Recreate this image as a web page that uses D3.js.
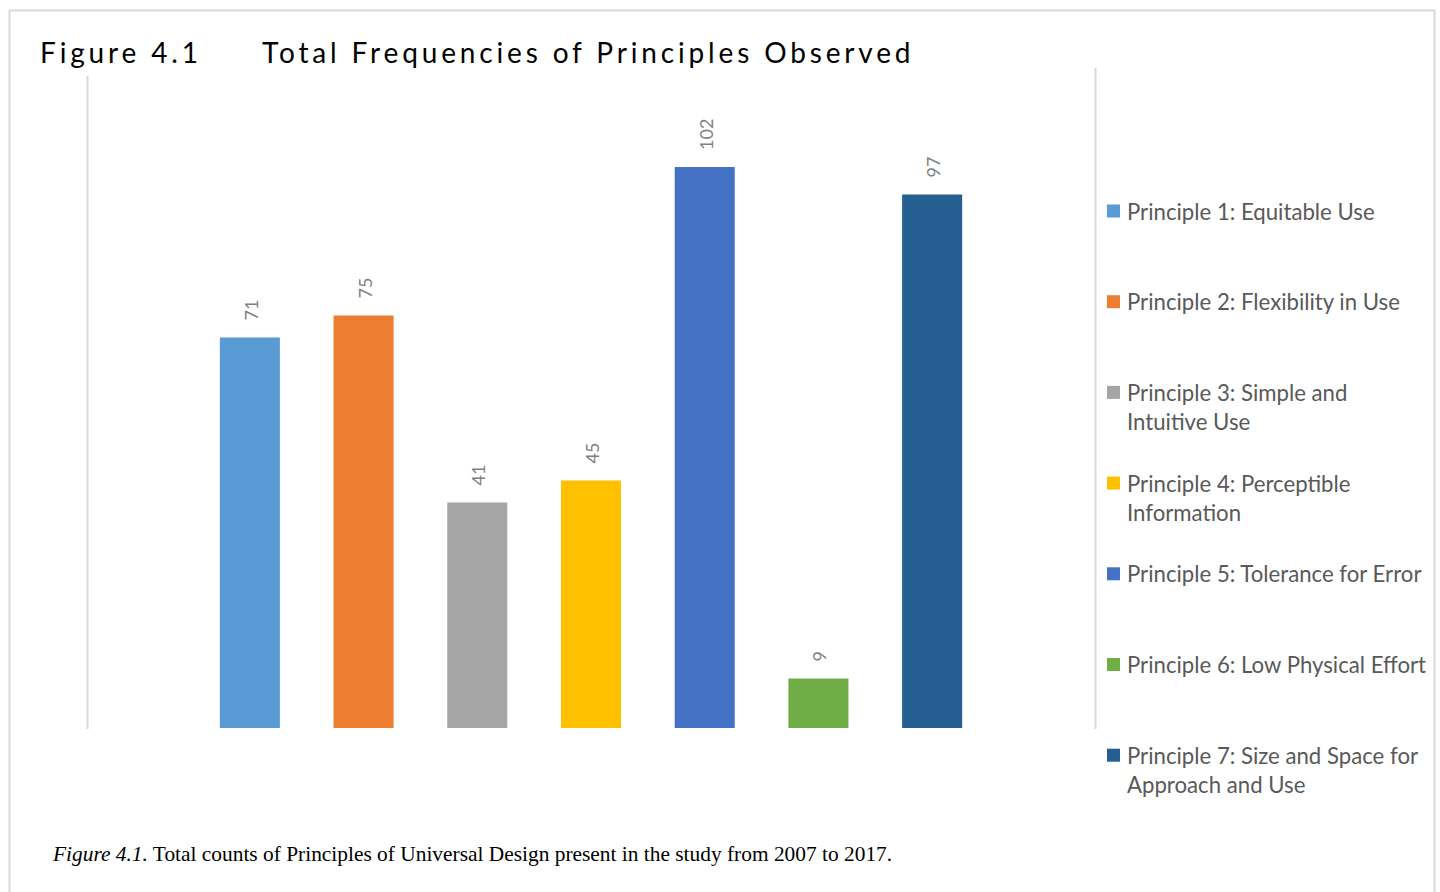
<!DOCTYPE html>
<html>
<head>
<meta charset="utf-8">
<script src="https://cdn.jsdelivr.net/npm/d3@7"></script>
<style>
  html, body { margin: 0; padding: 0; background: #fff; }
  svg { display: block; }
</style>
</head>
<body>
<svg id="chart" width="1440" height="892"></svg>
<script>
// Principles of Universal Design and their observed counts
const categories = [
  "Principle 1: Equitable Use",
  "Principle 2: Flexibility in Use",
  "Principle 3: Simple and Intuitive Use",
  "Principle 4: Perceptible Information",
  "Principle 5: Tolerance for Error",
  "Principle 6: Low Physical Effort",
  "Principle 7: Size and Space for Approach and Use"
];
const counts = [71, 75, 41, 45, 102, 9, 97];
const legendLines = [
  ["Principle 1: Equitable Use"],
  ["Principle 2: Flexibility in Use"],
  ["Principle 3: Simple and", "Intuitive Use"],
  ["Principle 4: Perceptible", "Information"],
  ["Principle 5: Tolerance for Error"],
  ["Principle 6: Low Physical Effort"],
  ["Principle 7: Size and Space for", "Approach and Use"]
];
const colors = ["#5b9bd5", "#ed7d31", "#a5a5a5", "#ffc000", "#4472c4", "#70ad47", "#255e91"];
const yMax = 120;

const svg = d3.select("#chart");
const font = "Lato, 'Open Sans', sans-serif";

// outer frame
svg.append("rect")
  .attr("x", 9.5).attr("y", 10.5)
  .attr("width", 1425).attr("height", 900)
  .attr("fill", "none").attr("stroke", "#d9d9d9").attr("stroke-width", 2);

// plot frame lines
svg.append("line").attr("x1", 87.5).attr("x2", 87.5).attr("y1", 76).attr("y2", 729)
  .attr("stroke", "#d9d9d9").attr("stroke-width", 2);
svg.append("line").attr("x1", 1095.5).attr("x2", 1095.5).attr("y1", 68).attr("y2", 729)
  .attr("stroke", "#d9d9d9").attr("stroke-width", 2);

// title
const title = svg.append("g").attr("font-family", font).attr("font-size", 28)
  .attr("fill", "#000").style("letter-spacing", "3.85px");
title.append("text").attr("x", 40).attr("y", 63).text("Figure 4.1");
title.append("text").attr("x", 262).attr("y", 63).text("Total Frequencies of Principles Observed");

// scales
const x = d3.scaleBand().domain(categories).range([193, 989])
  .paddingInner(0.472).paddingOuter(0.236);
const y = d3.scaleLinear().domain([0, yMax]).range([728, 68]);

const data = categories.map((c, i) => ({ name: c, value: counts[i], color: colors[i] }));

// bars
svg.append("g").selectAll("rect").data(data).join("rect")
  .attr("x", d => x(d.name))
  .attr("y", d => y(d.value))
  .attr("width", x.bandwidth())
  .attr("height", d => y(0) - y(d.value))
  .attr("fill", d => d.color);

// value labels, rotated
svg.append("g").selectAll("text").data(data).join("text")
  .attr("transform", d => `translate(${x(d.name) + x.bandwidth() / 2 + 1},${y(d.value) - 17}) rotate(-90)`)
  .attr("text-anchor", "start")
  .attr("dominant-baseline", "central")
  .attr("font-family", font).attr("font-size", 18)
  .attr("fill", "#7f7f7f")
  .text(d => d.value);

// legend
const legend = svg.append("g").attr("font-family", font).attr("font-size", 22.2).attr("fill", "#595959");
const legendTop = 210.5, legendStep = 90.7, lineH = 29;
const items = legend.selectAll("g").data(data).join("g")
  .attr("transform", (d, i) => `translate(1107,${legendTop + i * legendStep})`);
items.append("rect").attr("x", 0).attr("y", -6).attr("width", 13).attr("height", 13)
  .attr("fill", d => d.color);
items.each(function (d, i) {
  const t = d3.select(this).append("text").attr("x", 20).attr("y", 0)
    .attr("dominant-baseline", "central");
  legendLines[i].forEach((ln, k) => {
    t.append("tspan").attr("x", 20).attr("y", k * lineH).text(ln);
  });
});

// caption
const cap = svg.append("text").attr("x", 53).attr("y", 861)
  .attr("font-family", "'Liberation Serif', 'Times New Roman', serif")
  .attr("font-size", 21.4).attr("fill", "#000");
cap.append("tspan").attr("font-style", "italic").text("Figure 4.1.");
cap.append("tspan").text(" Total counts of Principles of Universal Design present in the study from 2007 to 2017.");
</script>
</body>
</html>
